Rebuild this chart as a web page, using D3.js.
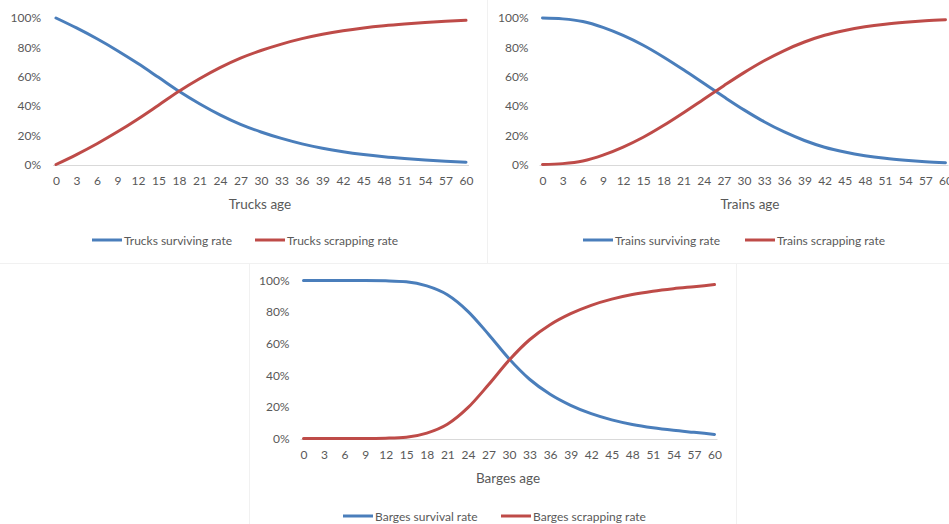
<!DOCTYPE html>
<html>
<head>
<meta charset="utf-8">
<script src="https://cdn.jsdelivr.net/npm/d3@7/dist/d3.min.js"></script>
<style>
  html, body { margin: 0; padding: 0; background: #ffffff; }
  svg { display: block; }
  text { font-family: Lato, "Open Sans", sans-serif; fill: #595959; }
</style>
</head>
<body>
<svg id="chart" width="949" height="524"></svg>
<script>
// ---- Data ----
const ages = [0, 3, 6, 9, 12, 15, 18, 21, 24, 27, 30, 33, 36, 39, 42, 45, 48, 51, 54, 57, 60];
const yTickValues = [0, 20, 40, 60, 80, 100];

const trucksSurviving = [100, 93.2, 85.8, 77.7, 68.9, 59.5, 50, 41.5, 33.9, 27.4, 22.2, 17.8, 14.1, 11.1, 8.7, 6.8, 5.3, 4.1, 3.1, 2.3, 1.6];
const trucksScrapping = [0, 6.8, 14.2, 22.3, 31.1, 40.5, 50, 58.5, 66.1, 72.6, 77.8, 82.2, 85.9, 88.9, 91.3, 93.2, 94.7, 95.9, 96.9, 97.7, 98.4];

const trainsSurviving = [100, 99.4, 97.6, 93.6, 88.1, 81.4, 73.4, 64.6, 55.4, 46.2, 37.3, 29.2, 22.2, 16.4, 11.8, 8.5, 6, 4.2, 2.9, 1.9, 1.2];
const trainsScrapping = [0, 0.6, 2.4, 6.4, 11.9, 18.6, 26.6, 35.4, 44.6, 53.8, 62.7, 70.8, 77.8, 83.6, 88.2, 91.5, 94, 95.8, 97.1, 98.1, 98.8];

const bargesSurvival = [100, 100, 100, 100, 99.8, 99.2, 96.6, 91, 80.5, 66, 50.5, 37.5, 28, 21, 15.7, 11.8, 8.9, 6.8, 5.2, 3.9, 2.6];
const bargesScrapping = [0, 0, 0, 0, 0.2, 0.8, 3.4, 9, 19.5, 34, 49.5, 62.5, 72, 79, 84.3, 88.2, 91.1, 93.2, 94.8, 96.1, 97.4];

const seriesNames = {
  trucks: ["Trucks surviving rate", "Trucks scrapping rate"],
  trains: ["Trains surviving rate", "Trains scrapping rate"],
  barges: ["Barges survival rate", "Barges scrapping rate"]
};
const axisTitles = { trucks: "Trucks age", trains: "Trains age", barges: "Barges age" };

const BLUE = "#4a7ebb";
const RED = "#be4b48";

const svg = d3.select("#chart");

// faint chart-area borders
const borders = svg.append("g").attr("stroke", "#f1f1f1").attr("stroke-width", 1).attr("fill", "none");
borders.append("line").attr("x1", 487.5).attr("x2", 487.5).attr("y1", 0).attr("y2", 263.5);
borders.append("line").attr("x1", 0).attr("x2", 949).attr("y1", 263.5).attr("y2", 263.5);
borders.append("line").attr("x1", 249.5).attr("x2", 249.5).attr("y1", 263.5).attr("y2", 524);
borders.append("line").attr("x1", 736.5).attr("x2", 736.5).attr("y1", 263.5).attr("y2", 524);

function drawChart(cfg) {
  const x = d3.scaleLinear().domain([0, 60]).range([cfg.x0, cfg.x1]);
  const y = d3.scaleLinear().domain([0, 100]).range([cfg.y0, cfg.y1]);
  const g = svg.append("g");

  // baseline (0%)
  g.append("line")
    .attr("x1", cfg.x0 - 3).attr("x2", cfg.x1 + 3)
    .attr("y1", Math.round(y(0)) + 0.5).attr("y2", Math.round(y(0)) + 0.5)
    .attr("stroke", "#d9d9d9").attr("stroke-width", 1);

  // y axis labels
  const yAxis = d3.axisLeft(y).tickValues(yTickValues).tickFormat(d => d + "%").tickSize(0).tickPadding(0);
  const ya = g.append("g").attr("transform", `translate(${cfg.yLabelX},0)`).call(yAxis);
  ya.select(".domain").remove();
  ya.selectAll("text").attr("font-size", 12).style("font-family", "Lato").attr("fill", "#595959");

  // x axis labels
  const xAxis = d3.axisBottom(x).tickValues(ages).tickFormat(d3.format("d")).tickSize(0).tickPadding(0);
  const xa = g.append("g").attr("transform", `translate(0,${cfg.y0 + 12})`).call(xAxis);
  xa.select(".domain").remove();
  xa.selectAll("text").attr("font-size", 12).style("font-family", "Lato").attr("fill", "#595959");

  // axis title
  g.append("text").attr("x", cfg.titleX).attr("y", cfg.y0 + 39)
    .attr("text-anchor", "middle").attr("dominant-baseline", "central")
    .attr("font-size", 13.5).text(axisTitles[cfg.key]);

  const line = d3.line().x((d, i) => x(ages[i])).y(d => y(d)).curve(d3.curveMonotoneX);
  [[cfg.s1, BLUE], [cfg.s2, RED]].forEach(([vals, col]) => {
    g.append("path").datum(vals).attr("d", line)
      .attr("fill", "none").attr("stroke", col).attr("stroke-width", 3)
      .attr("stroke-linecap", "round").attr("stroke-linejoin", "round");
  });

  // legend
  const lg = g.append("g");
  const items = [[cfg.leg[0], BLUE, seriesNames[cfg.key][0]], [cfg.leg[1], RED, seriesNames[cfg.key][1]]];
  items.forEach(([lx, col, name]) => {
    lg.append("line").attr("x1", lx).attr("x2", lx + 30).attr("y1", cfg.legY).attr("y2", cfg.legY)
      .attr("stroke", col).attr("stroke-width", 3);
    lg.append("text").attr("x", lx + 32).attr("y", cfg.legY).attr("dominant-baseline", "central")
      .attr("font-size", 12).text(name);
  });
}

drawChart({ key: "trucks", x0: 56, x1: 466, y0: 164.5, y1: 18, yLabelX: 41, titleX: 260, legY: 240, leg: [92, 255], s1: trucksSurviving, s2: trucksScrapping });
drawChart({ key: "trains", x0: 542.5, x1: 945.5, y0: 164.5, y1: 18, yLabelX: 528.5, titleX: 750, legY: 240, leg: [583, 745], s1: trainsSurviving, s2: trainsScrapping });
drawChart({ key: "barges", x0: 303.5, x1: 714.5, y0: 438.5, y1: 280.5, yLabelX: 289.5, titleX: 508, legY: 516, leg: [343, 501], s1: bargesSurvival, s2: bargesScrapping });
</script>
</body>
</html>
